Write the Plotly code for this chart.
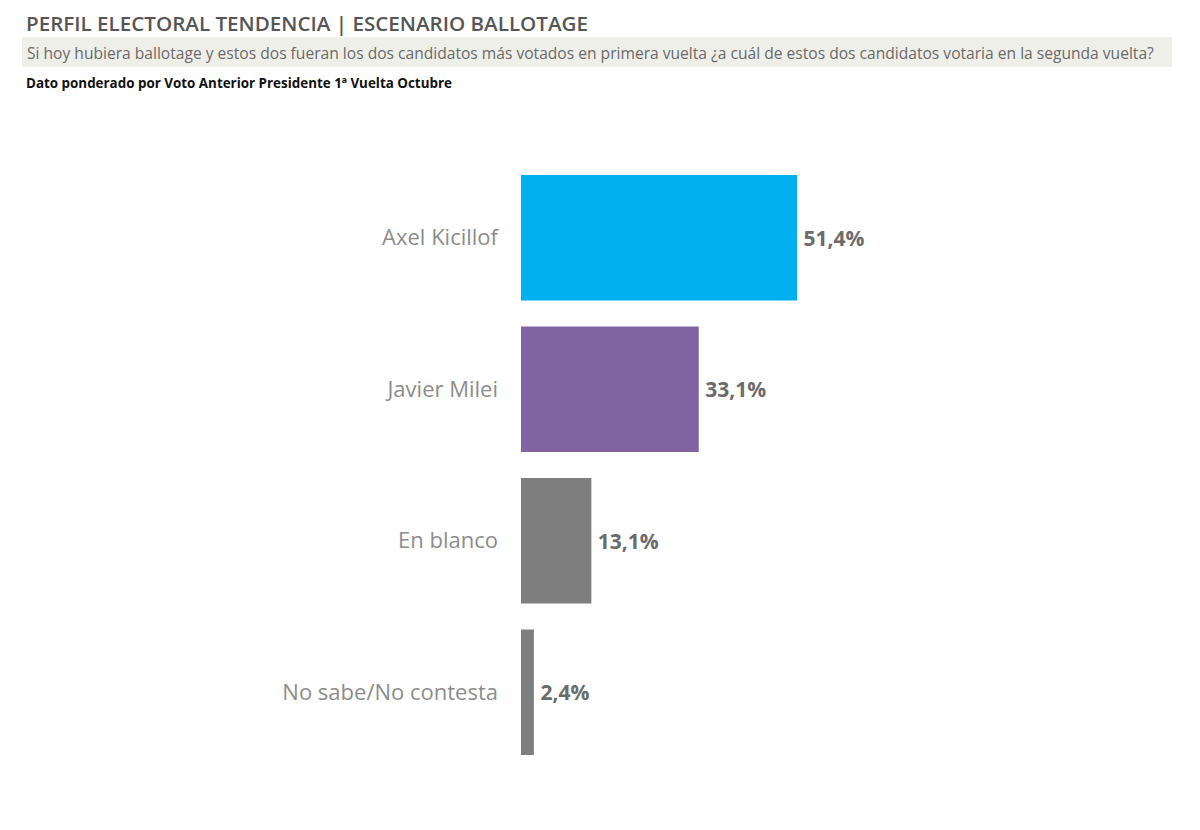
import plotly.graph_objects as go

categorias = ["Axel Kicillof", "Javier Milei", "En blanco", "No sabe/No contesta"]
valores = [51.4, 33.1, 13.1, 2.4]
colores = ["#00B0F0", "#8064A2", "#7F7F7F", "#7F7F7F"]

titulo = "PERFIL ELECTORAL TENDENCIA | ESCENARIO BALLOTAGE"
pregunta = ("Si hoy hubiera ballotage y estos dos fueran los dos candidatos más votados en "
            "primera vuelta ¿a cuál de estos dos candidatos votaria en la segunda vuelta?")
nota = "Dato ponderado por Voto Anterior Presidente 1ª Vuelta Octubre"

W, H = 1200, 830
OFF = 8  # margen del body de la página
L, R, T, B = 521 - OFF, 142 + OFF, 162 - OFF, 62 + OFF


def px(x):
    return (x - OFF - L) / (W - L - R)


def py(y):
    return (H - B - (y - OFF)) / (H - T - B)


fig = go.Figure(go.Bar(
    x=valores, y=categorias, orientation="h",
    marker=dict(color=colores, line=dict(width=0)),
    texttemplate="\u2009%{x:.1f}%", textposition="outside",
    textfont=dict(family="Open Sans", size=21, color="#6b6b6b", weight=700),
    cliponaxis=False, width=0.83,
))

fig.update_layout(
    width=W, height=H,
    margin=dict(l=L, r=R, t=T, b=B),
    paper_bgcolor="white", plot_bgcolor="white",
    separators=",.",
    showlegend=False,
    xaxis=dict(range=[0, 100], visible=False),
    yaxis=dict(autorange="reversed", showgrid=False, zeroline=False, showline=False,
               ticks="", ticklabelstandoff=22,
               tickfont=dict(family="Open Sans", size=22, color="#8c8c8c")),
    shapes=[dict(type="rect", xref="paper", yref="paper",
                 x0=px(22), x1=px(1172), y0=py(67), y1=py(37),
                 fillcolor="#efefe9", line=dict(width=0), layer="below")],
    annotations=[
        dict(text=titulo, xref="paper", yref="paper", x=px(24), y=py(23),
             xanchor="left", yanchor="middle", showarrow=False,
             font=dict(family="Open Sans", size=20.6, color="#555555", weight=600)),
        dict(text=pregunta, xref="paper", yref="paper", x=px(25), y=py(53),
             xanchor="left", yanchor="middle", showarrow=False,
             font=dict(family="Open Sans", size=15.6, color="#6a6a6a")),
        dict(text=nota, xref="paper", yref="paper", x=px(24), y=py(83),
             xanchor="left", yanchor="middle", showarrow=False,
             font=dict(family="Open Sans", size=13.4, color="#111111", weight=700)),
    ],
)

fig.write_html("out.html")
